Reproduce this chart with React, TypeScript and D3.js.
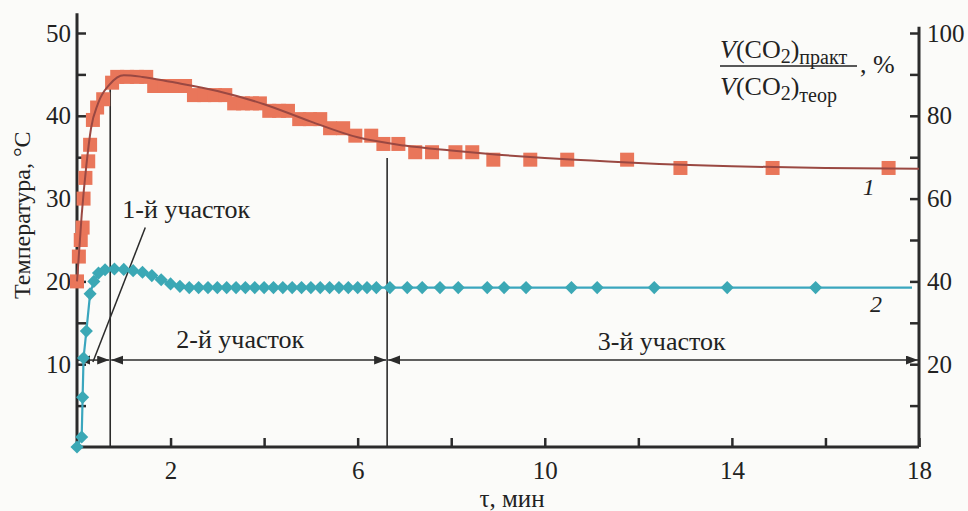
import React, { useEffect, useRef } from 'react'
import * as d3 from 'd3'

// curve 1: temperature, degC (squares)
const tempTime = [0, 0.04, 0.08, 0.12, 0.14, 0.18, 0.24, 0.28, 0.34, 0.43, 0.56, 0.75,
  0.86, 1.07, 1.28, 1.48, 1.65, 1.86, 2.1, 2.31, 2.5, 2.72, 2.95, 3.17, 3.36, 3.55, 3.74, 3.91,
  4.11, 4.32, 4.51, 4.75, 4.98, 5.2, 5.41, 5.69, 5.95, 6.29, 6.55, 6.87,
  7.23, 7.59, 8.09, 8.45, 8.9, 9.69, 10.48, 11.76, 12.9, 14.87, 17.35]
const tempValue = [20, 23, 25, 26.5, 30, 32.5, 34.5, 36.5, 39.5, 41, 42, 44,
  44.7, 44.7, 44.7, 44.7, 43.6, 43.6, 43.6, 43.6, 42.5, 42.5, 42.5, 42.5, 41.5, 41.5, 41.5, 41.5,
  40.6, 40.6, 40.6, 39.6, 39.6, 39.6, 38.5, 38.5, 37.6, 37.6, 36.6, 36.6,
  35.6, 35.6, 35.6, 35.6, 34.7, 34.7, 34.7, 34.7, 33.7, 33.7, 33.7]

// smoothed curve through the temperature points
const fitTime = [0, 0.1, 0.2, 0.3, 0.45, 0.7, 1.0, 1.4, 2, 3, 4, 5, 6, 7, 8, 9, 10, 11, 12, 14, 16, 18]
const fitValue = [20, 28, 34, 38.5, 41.5, 43.8, 44.9, 44.7, 44.1, 43.0, 41.4, 39.3, 37.4, 36.4, 35.8, 35.3, 34.9, 34.6, 34.3, 33.9, 33.7, 33.6]

// curve 2: V(CO2)pract / V(CO2)theor, % (diamonds)
const co2Time = [0, 0.1, 0.12, 0.14, 0.2, 0.28, 0.36, 0.46, 0.6, 0.8, 1.0, 1.2, 1.4, 1.6, 1.8, 2.0, 2.2,
  2.4, 2.6, 2.8, 3.0, 3.2, 3.4, 3.6, 3.8, 4.0, 4.2, 4.4, 4.6, 4.8, 5.0, 5.2, 5.4, 5.6, 5.8, 6.0, 6.2, 6.4,
  6.69, 7.06, 7.38, 7.76, 8.15, 8.77, 9.13, 9.6, 10.57, 11.12, 12.34, 13.9, 15.79]
const co2Value = [0, 2.4, 12, 21.5, 28, 37, 40, 42, 42.8, 43, 42.9, 42.6, 42.2, 41.4, 40.4, 39.4, 38.8,
  38.5, 38.5, 38.5, 38.5, 38.5, 38.5, 38.5, 38.5, 38.5, 38.5, 38.5, 38.5, 38.5, 38.5, 38.5, 38.5, 38.5, 38.5, 38.5, 38.5, 38.5,
  38.5, 38.5, 38.5, 38.5, 38.5, 38.5, 38.5, 38.5, 38.5, 38.5, 38.5, 38.5, 38.5]
const co2LineEnd = 17.85

const tempTicks = [10, 20, 30, 40, 50]
const tempMinor = [5, 15, 25, 35, 45]
const pctTicks = [20, 40, 60, 80, 100]
const pctMinor = [10, 30, 50, 70, 90]
const timeTicks = [2, 6, 10, 14, 18]
const timeMinor = [4, 8, 12, 16]

// stage boundaries, min
const zoneEdges = [0, 0.71, 6.63, 18]
const zoneNames = ['1-й участок', '2-й участок', '3-й участок']

const serif = "'Liberation Serif', 'DejaVu Serif', serif"
const ink = '#2b2b2b'

export default function App() {
  const ref = useRef<SVGSVGElement>(null)

  useEffect(() => {
    const svg = d3.select(ref.current)
    svg.selectAll('*').remove()

    const x = d3.scaleLinear().domain([0, 18]).range([77, 919])
    const yT = d3.scaleLinear().domain([0, 50]).range([447, 33])
    const yP = d3.scaleLinear().domain([0, 100]).range([447, 33])

    svg.append('rect').attr('width', 968).attr('height', 511).attr('fill', '#fbfbf9')

    const defs = svg.append('defs')
    defs.append('marker')
      .attr('id', 'arr')
      .attr('markerUnits', 'userSpaceOnUse')
      .attr('markerWidth', 14).attr('markerHeight', 10)
      .attr('refX', 12).attr('refY', 4.5)
      .attr('orient', 'auto-start-reverse')
      .append('path').attr('d', 'M0,0L12,4.5L0,9Z').attr('fill', ink)

    // axes
    const styleAxis = (g) => {
      g.select('.domain').remove()
      g.selectAll('line').attr('stroke', ink).attr('stroke-width', 2.5)
      g.selectAll('text').attr('font-family', serif).attr('font-size', 25).attr('fill', '#222')
    }
    svg.append('g').attr('transform', 'translate(77,0)')
      .call(d3.axisLeft(yT).tickValues(tempTicks).tickSize(-9).tickPadding(6)).call(styleAxis)
    svg.append('g').attr('transform', 'translate(77,0)')
      .call(d3.axisLeft(yT).tickValues(tempMinor).tickSize(-9).tickFormat(() => '')).call(styleAxis)
    svg.append('g').attr('transform', 'translate(919,0)')
      .call(d3.axisRight(yP).tickValues(pctTicks).tickSize(-9).tickPadding(8)).call(styleAxis)
    svg.append('g').attr('transform', 'translate(919,0)')
      .call(d3.axisRight(yP).tickValues(pctMinor).tickSize(-9).tickFormat(() => '')).call(styleAxis)
    svg.append('g').attr('transform', 'translate(0,447)')
      .call(d3.axisBottom(x).tickValues(timeTicks).tickSize(-9).tickPadding(14)).call(styleAxis)
    svg.append('g').attr('transform', 'translate(0,447)')
      .call(d3.axisBottom(x).tickValues(timeMinor).tickSize(-9).tickFormat(() => '')).call(styleAxis)

    svg.append('line').attr('x1', x(0)).attr('x2', x(0)).attr('y1', yT(52.4)).attr('y2', yT(0))
      .attr('stroke', ink).attr('stroke-width', 3)
    svg.append('line').attr('x1', x(18)).attr('x2', x(18)).attr('y1', yP(101.5)).attr('y2', yP(0))
      .attr('stroke', ink).attr('stroke-width', 3)
    svg.append('line').attr('x1', x(0)).attr('x2', x(18)).attr('y1', yT(0)).attr('y2', yT(0))
      .attr('stroke', ink).attr('stroke-width', 3)

    // axis titles
    svg.append('text')
      .attr('transform', `translate(30,${yT(28)}) rotate(-90)`)
      .attr('text-anchor', 'middle')
      .attr('font-family', serif).attr('font-size', 24).attr('fill', '#222')
      .text('Температура, °C')
    svg.append('text')
      .attr('x', x(9.3)).attr('y', 507)
      .attr('text-anchor', 'middle')
      .attr('font-family', serif).attr('font-size', 25).attr('fill', '#222')
      .text('τ, мин')

    const frac = svg.append('g').attr('font-family', serif).attr('fill', '#222')
    const num = frac.append('text').attr('x', 720).attr('y', 58).attr('font-size', 26)
    num.append('tspan').attr('font-style', 'italic').text('V')
    num.append('tspan').text('(CO')
    num.append('tspan').attr('dy', 5).attr('font-size', 20).text('2')
    num.append('tspan').attr('dy', -5).text(')')
    num.append('tspan').attr('dy', 6).attr('font-size', 20).text('практ')
    frac.append('line').attr('x1', 720).attr('x2', 857).attr('y1', 66).attr('y2', 66)
      .attr('stroke', '#222').attr('stroke-width', 1.5)
    const den = frac.append('text').attr('x', 720).attr('y', 95).attr('font-size', 26)
    den.append('tspan').attr('font-style', 'italic').text('V')
    den.append('tspan').text('(CO')
    den.append('tspan').attr('dy', 5).attr('font-size', 20).text('2')
    den.append('tspan').attr('dy', -5).text(')')
    den.append('tspan').attr('dy', 7).attr('font-size', 20).text('теор')
    frac.append('text').attr('x', 860).attr('y', 73).attr('font-size', 26).text(', %')

    // stage boundaries and arrows
    const arrowY = yT(10.5)
    svg.append('line').attr('x1', x(zoneEdges[1])).attr('x2', x(zoneEdges[1]))
      .attr('y1', yT(44.5)).attr('y2', yT(0)).attr('stroke', ink).attr('stroke-width', 1.6)
    svg.append('line').attr('x1', x(zoneEdges[2])).attr('x2', x(zoneEdges[2]))
      .attr('y1', yT(34.9)).attr('y2', yT(0)).attr('stroke', ink).attr('stroke-width', 1.6)
    d3.range(3).forEach((i) => {
      svg.append('line')
        .attr('x1', x(zoneEdges[i]) + 1).attr('x2', x(zoneEdges[i + 1]) - 1)
        .attr('y1', arrowY).attr('y2', arrowY)
        .attr('stroke', ink).attr('stroke-width', 1.5)
        .attr('marker-start', 'url(#arr)').attr('marker-end', 'url(#arr)')
    })
    const zoneText = (label, tx, ty, anchor) =>
      svg.append('text').attr('x', x(tx)).attr('y', yT(ty)).attr('text-anchor', anchor)
        .attr('font-family', serif).attr('font-size', 26).attr('fill', '#222').text(label)
    zoneText(zoneNames[0], 0.97, 27.7, 'start')
    zoneText(zoneNames[1], 3.49, 12, 'middle')
    zoneText(zoneNames[2], 12.5, 11.7, 'middle')
    svg.append('line')
      .attr('x1', x(1.46)).attr('y1', yT(26.5)).attr('x2', x(0.34)).attr('y2', arrowY + 2)
      .attr('stroke', ink).attr('stroke-width', 1.5)

    // curve 2
    const co2 = co2Time.map((t, i) => [t, co2Value[i]])
    const line2 = d3.line().x((d) => x(d[0])).y((d) => yP(d[1]))
    svg.append('path')
      .attr('d', line2([...co2, [co2LineEnd, co2Value[co2Value.length - 1]]]))
      .attr('fill', 'none').attr('stroke', '#3aa6be').attr('stroke-width', 2.2)
    svg.append('g').selectAll('path').data(co2).enter().append('path')
      .attr('d', d3.symbol(d3.symbolSquare, 86)())
      .attr('transform', (d) => `translate(${x(d[0])},${yP(d[1])}) rotate(45)`)
      .attr('fill', '#3ba8b5')

    // curve 1
    svg.append('g').selectAll('rect').data(tempTime).enter().append('rect')
      .attr('x', (d) => x(d) - 7).attr('y', (d, i) => yT(tempValue[i]) - 7)
      .attr('width', 14).attr('height', 14)
      .attr('fill', '#e9765a')
    const fit = fitTime.map((t, i) => [t, fitValue[i]])
    const line1 = d3.line().x((d) => x(d[0])).y((d) => yT(d[1])).curve(d3.curveMonotoneX)
    svg.append('path').attr('d', line1(fit))
      .attr('fill', 'none').attr('stroke', '#9a4842').attr('stroke-width', 2)

    svg.append('text').attr('x', x(16.8)).attr('y', yT(30.4))
      .attr('font-family', serif).attr('font-style', 'italic').attr('font-size', 24).attr('fill', '#222').text('1')
    svg.append('text').attr('x', x(16.95)).attr('y', yT(16.3))
      .attr('font-family', serif).attr('font-style', 'italic').attr('font-size', 24).attr('fill', '#222').text('2')
  }, [])

  return (
    <svg ref={ref} width={968} height={511}
      style={{ position: 'absolute', left: 0, top: 0, display: 'block' }} />
  )
}
